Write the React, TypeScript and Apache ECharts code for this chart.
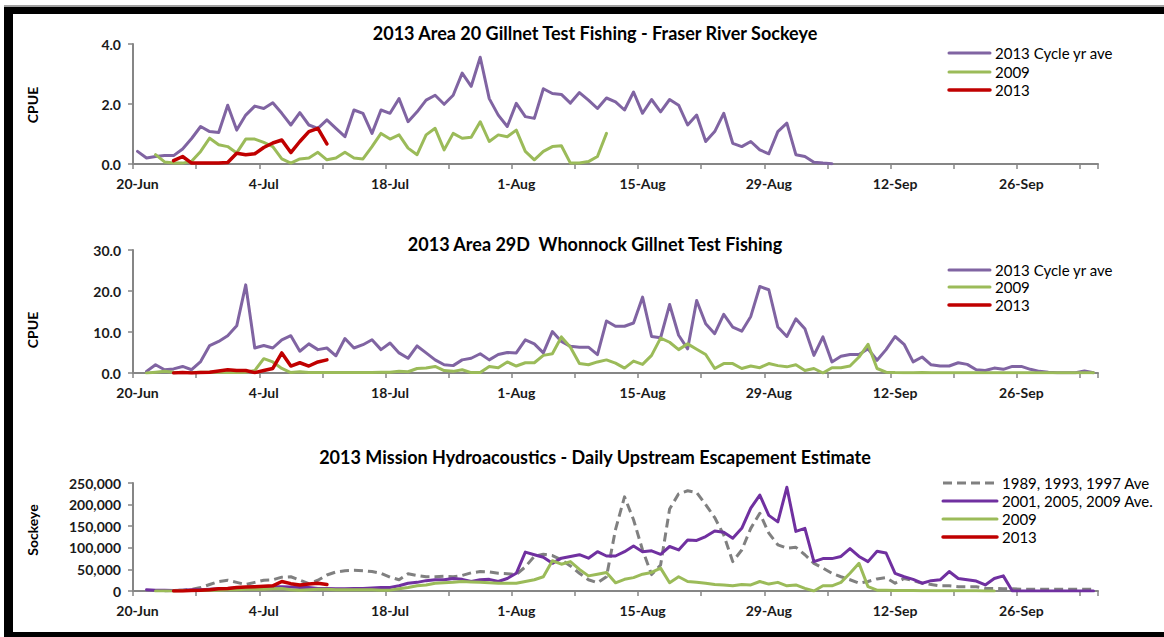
import React, { useEffect, useRef } from "react";
import * as echarts from "echarts";

// ---------- categories (daily, 20-Jun .. 4-Oct 2013) ----------
const MONTHS = ["Jan", "Feb", "Mar", "Apr", "May", "Jun", "Jul", "Aug", "Sep", "Oct", "Nov", "Dec"];
const FIRST_DAY = { year: 2013, month: 5, day: 20 };
const NUM_DAYS = 107;
const dateLabels: string[] = Array.from({ length: NUM_DAYS }, (_, i) => {
  const d = new Date(FIRST_DAY.year, FIRST_DAY.month, FIRST_DAY.day + i);
  return `${d.getDate()}-${MONTHS[d.getMonth()]}`;
});

// ---------- titles / legends ----------
const TITLES = [
  "2013 Area 20 Gillnet Test Fishing - Fraser River Sockeye",
  "2013 Area 29D  Whonnock Gillnet Test Fishing",
  "2013 Mission Hydroacoustics - Daily Upstream Escapement Estimate",
];
const Y_NAMES = ["CPUE", "CPUE", "Sockeye"];

// ---------- Panel 1: Area 20 CPUE ----------
const P1_CYCLE_START = 0;
const P1_CYCLE = [
  0.42, 0.2, 0.25, 0.28, 0.28, 0.5, 0.85, 1.25, 1.08, 1.05,
  1.96, 1.13, 1.63, 1.93, 1.85, 2.04, 1.69, 1.3, 1.71, 1.3,
  1.19, 1.47, 1.19, 0.91, 1.8, 1.69, 1.02, 1.8, 1.69, 2.18,
  1.41, 1.74, 2.13, 2.29, 1.99, 2.29, 3.03, 2.59, 3.56, 2.18,
  1.63, 1.25, 2.02, 1.58, 1.52, 2.51, 2.35, 2.32, 2.03, 2.38,
  2.13, 1.85, 2.2, 2.07, 1.8, 2.4, 1.69, 2.15, 1.74, 2.15,
  1.96, 1.3, 1.63, 0.75, 1.08, 1.69, 0.69, 0.58, 0.75, 0.47,
  0.34, 1.08, 1.36, 0.31, 0.25, 0.06, 0.03, 0.01,
];
const P1_2009_START = 2;
const P1_2009 = [
  0.31, 0.07, 0.03, 0.03, 0.09, 0.42, 0.86, 0.64, 0.58, 0.37,
  0.83, 0.83, 0.72, 0.58, 0.17, 0.03, 0.17, 0.2, 0.39, 0.14,
  0.2, 0.39, 0.2, 0.17, 0.58, 1.02, 0.83, 0.97, 0.53, 0.31,
  0.97, 1.19, 0.47, 1.02, 0.86, 0.89, 1.41, 0.75, 0.97, 0.91,
  1.13, 0.42, 0.14, 0.42, 0.58, 0.61, 0.03, 0.03, 0.08, 0.25,
  1.02,
];
const P1_2013_START = 4;
const P1_2013 = [
  0.11, 0.25, 0.03, 0.03, 0.03, 0.03, 0.05, 0.36, 0.31, 0.34,
  0.55, 0.7, 0.8, 0.38, 0.75, 1.08, 1.19, 0.67,
];

// ---------- Panel 2: Area 29D CPUE ----------
const P2_CYCLE_START = 1;
const P2_CYCLE = [
  0.4, 2.0, 0.8, 1.0, 1.6, 0.8, 2.8, 6.7, 7.7, 9.1,
  11.5, 21.5, 6.1, 6.7, 6.1, 8.1, 9.1, 5.3, 7.1, 5.7,
  6.1, 4.2, 8.4, 6.1, 6.9, 8.1, 5.7, 7.3, 4.9, 3.6,
  6.6, 4.9, 3.2, 2.0, 1.8, 3.2, 3.6, 4.7, 3.2, 4.5,
  5.0, 4.9, 8.1, 7.1, 4.9, 10.1, 7.7, 6.5, 6.3, 6.3,
  4.5, 12.7, 11.4, 11.4, 12.2, 18.5, 8.9, 8.6, 16.7, 9.2,
  5.9, 17.7, 12.0, 9.6, 14.3, 11.2, 10.2, 13.8, 21.1, 20.3,
  11.2, 8.9, 13.2, 10.8, 4.3, 8.8, 2.7, 4.1, 4.5, 4.5,
  5.9, 3.1, 5.7, 8.9, 7.0, 2.7, 3.9, 2.0, 1.7, 1.7,
  2.5, 2.1, 0.8, 0.6, 1.2, 0.9, 1.6, 1.6, 0.9, 0.4,
  0.2, 0.05, 0.05, 0.05, 0.5, 0.05,
];
const P2_2009_START = 1;
const P2_2009 = [
  0.0, 0.2, 0.4, 0.2, 0.1, 0.1, 0.2, 0.2, 0.2, 0.1,
  0.1, 0.2, 0.6, 3.5, 2.7, 1.1, 0.1, 0.3, 0.1, 0.1,
  0.1, 0.1, 0.1, 0.1, 0.1, 0.1, 0.2, 0.2, 0.4, 0.3,
  1.1, 1.2, 1.6, 0.6, 0.4, 0.8, 0.1, 0.1, 1.6, 1.3,
  2.7, 1.7, 2.5, 2.5, 4.3, 4.7, 8.8, 6.3, 2.3, 2.0,
  2.7, 3.2, 2.4, 1.2, 2.9, 2.1, 4.3, 8.5, 7.5, 5.7,
  7.1, 5.8, 4.5, 1.1, 2.3, 2.3, 1.1, 1.7, 1.3, 2.3,
  1.8, 1.5, 2.0, 0.6, 1.1, 0.0, 1.3, 1.3, 1.7, 3.9,
  7.0, 1.1, 0.2, 0.1, 0.05, 0.05, 0.1, 0.05, 0.05, 0.05,
  0.05, 0.05, 0.05, 0.05, 0.05, 0.05, 0.05, 0.05, 0.05, 0.05,
  0.05, 0.05, 0.05, 0.05, 0.05, 0.05,
];
const P2_2013_START = 4;
const P2_2013 = [
  0.0, 0.1, 0.0, 0.1, 0.2, 0.5, 0.8, 0.6, 0.6, 0.1,
  0.6, 1.1, 4.9, 1.7, 2.5, 1.7, 2.7, 3.2,
];

// ---------- Panel 3: Mission hydroacoustics (sockeye/day) ----------
const P3_8997_START = 3;
const P3_8997 = [
  0, 1000, 2000, 4000, 8000, 15000, 22000, 25000, 20000, 15000,
  20000, 25000, 26000, 32000, 33000, 25000, 17000, 25000, 37000, 44000,
  47000, 48000, 47000, 45000, 41000, 32000, 26000, 40000, 36000, 33000,
  33000, 34000, 33000, 36000, 42000, 45000, 44000, 41000, 40000, 38000,
  56000, 80000, 85000, 82000, 72000, 58000, 41000, 26000, 19000, 33000,
  142000, 218000, 165000, 95000, 38000, 60000, 190000, 225000, 232000, 228000,
  200000, 170000, 130000, 68000, 95000, 145000, 180000, 134000, 107000, 99000,
  101000, 84000, 64000, 53000, 41000, 33000, 26000, 18000, 22000, 28000,
  31000, 18000, 29000, 24000, 18000, 15000, 12000, 12000, 10000, 10000,
  10000, 6000, 6000, 5000, 5000, 4000, 4000, 4000, 4000, 4000,
  4000, 4000, 4000, 4000,
];
const P3_0109_START = 1;
const P3_0109 = [
  3000, 2000, 2000, 1000, 2000, 3000, 3000, 4000, 5000, 6000,
  7000, 8000, 9000, 10000, 10000, 10000, 9000, 8000, 8000, 6000,
  6000, 5000, 5000, 6000, 6000, 7000, 8000, 8000, 12000, 18000,
  20000, 24000, 26000, 26000, 29000, 27000, 22000, 26000, 27000, 22000,
  29000, 41000, 90000, 84000, 78000, 64000, 76000, 80000, 84000, 76000,
  91000, 81000, 81000, 91000, 104000, 91000, 93000, 85000, 103000, 95000,
  118000, 117000, 126000, 139000, 136000, 122000, 145000, 192000, 222000, 175000,
  160000, 240000, 138000, 145000, 68000, 75000, 75000, 80000, 98000, 80000,
  68000, 92000, 88000, 41000, 33000, 27000, 18000, 24000, 26000, 45000,
  29000, 26000, 23000, 14000, 29000, 35000, 0, 0, 0, 0,
  0, 0, 0, 0, 0, 0,
];
const P3_2009_START = 2;
const P3_2009 = [
  0, 0, 0, 1000, 1000, 1000, 2000, 2000, 3000, 3000,
  4000, 4000, 4000, 5000, 6000, 3000, 2000, 3000, 4000, 4000,
  3000, 3000, 3000, 3000, 3000, 2000, 2000, 5000, 8000, 12000,
  14000, 18000, 19000, 20000, 22000, 21000, 20000, 19000, 18000, 18000,
  18000, 22000, 26000, 33000, 70000, 62000, 68000, 50000, 35000, 39000,
  43000, 19000, 27000, 31000, 39000, 43000, 53000, 19000, 33000, 22000,
  20000, 18000, 15000, 14000, 12000, 15000, 14000, 22000, 16000, 20000,
  12000, 14000, 6000, 0, 12000, 12000, 20000, 41000, 64000, 10000,
  2000, 1500, 1000, 1000, 1000, 800, 800, 500, 500, 500,
  300, 300, 200, 200,
];
const P3_2013_START = 4;
const P3_2013 = [
  0, 0, 1000, 1500, 3000, 5000, 6000, 8000, 9000, 10000,
  11000, 12000, 22000, 17000, 14000, 16000, 18000, 15000,
];

// ---------- style ----------
const PURPLE = "#8064A2";
const PURPLE_DARK = "#7030A0";
const GREEN = "#9BBB59";
const RED = "#C00000";
const GREY = "#808080";
const AXIS_GREY = "#868686";
const TEXT = "#1a1a1a";
const FONT = "Lato, 'Noto Sans', sans-serif";

const pad = (start: number, vals: number[]) => {
  const out: (number | null)[] = new Array(NUM_DAYS).fill(null);
  vals.forEach((v, i) => {
    if (start + i < NUM_DAYS) out[start + i] = v;
  });
  return out;
};

type S = { name: string; start: number; data: number[]; color: string; width: number; dash?: number[] };

const PANELS: { series: S[]; max: number; interval: number; fmt: (v: number) => string; top: number; height: number; titleY: number; nameY: number; legend: { x1: number; x2: number; tx: number; ys: number[] } }[] = [
  {
    series: [
      { name: "2013 Cycle yr ave", start: P1_CYCLE_START, data: P1_CYCLE, color: PURPLE, width: 3 },
      { name: "2009", start: P1_2009_START, data: P1_2009, color: GREEN, width: 3 },
      { name: "2013", start: P1_2013_START, data: P1_2013, color: RED, width: 3.5 },
    ],
    max: 4, interval: 2, fmt: (v) => v.toFixed(1), top: 44, height: 120, titleY: 33, nameY: 105,
    legend: { x1: 949, x2: 990, tx: 995, ys: [53, 72, 90] },
  },
  {
    series: [
      { name: "2013 Cycle yr ave", start: P2_CYCLE_START, data: P2_CYCLE, color: PURPLE, width: 3 },
      { name: "2009", start: P2_2009_START, data: P2_2009, color: GREEN, width: 3 },
      { name: "2013", start: P2_2013_START, data: P2_2013, color: RED, width: 3.5 },
    ],
    max: 30, interval: 10, fmt: (v) => v.toFixed(1), top: 250, height: 123, titleY: 244, nameY: 330,
    legend: { x1: 949, x2: 990, tx: 995, ys: [270, 287, 305] },
  },
  {
    series: [
      { name: "1989, 1993, 1997 Ave", start: P3_8997_START, data: P3_8997, color: GREY, width: 3, dash: [9, 5] },
      { name: "2001, 2005, 2009 Ave.", start: P3_0109_START, data: P3_0109, color: PURPLE_DARK, width: 3 },
      { name: "2009", start: P3_2009_START, data: P3_2009, color: GREEN, width: 3 },
      { name: "2013", start: P3_2013_START, data: P3_2013, color: RED, width: 3.5 },
    ],
    max: 250000, interval: 50000, fmt: (v) => v.toLocaleString("en-US"), top: 483, height: 108, titleY: 457, nameY: 530,
    legend: { x1: 943, x2: 997, tx: 1002, ys: [483, 501, 519, 537] },
  },
];

const GRID_LEFT = 133;
const GRID_WIDTH = 965;

export default function App() {
  const ref = useRef<HTMLDivElement>(null);
  useEffect(() => {
    if (!ref.current) return;
    const chart = echarts.init(ref.current, undefined, { renderer: "svg" });

    const grid = PANELS.map((p) => ({ left: GRID_LEFT, width: GRID_WIDTH, top: p.top, height: p.height, containLabel: false }));
    const xAxis = PANELS.map((_, i) => ({
      type: "category" as const,
      gridIndex: i,
      data: dateLabels,
      boundaryGap: true,
      axisLine: { show: true, lineStyle: { color: AXIS_GREY, width: 2 } },
      axisTick: { show: true, interval: 6, length: 5, lineStyle: { color: AXIS_GREY, width: 1.5 } },
      axisLabel: { interval: 13, margin: 12, color: TEXT, fontFamily: FONT, fontSize: 14, fontWeight: "bold" as const },
      splitLine: { show: false },
    }));
    const yAxis = PANELS.map((p, i) => ({
      type: "value" as const,
      gridIndex: i,
      min: 0,
      max: p.max,
      interval: p.interval,
      axisLine: { show: true, lineStyle: { color: AXIS_GREY, width: 2 } },
      axisTick: { show: true, length: 5, lineStyle: { color: AXIS_GREY, width: 1.5 } },
      axisLabel: { margin: 12, color: TEXT, fontFamily: FONT, fontSize: 14, fontWeight: "bold" as const, formatter: p.fmt },
      splitLine: { show: false },
    }));
    const series: any[] = [];
    PANELS.forEach((p, i) => {
      p.series.forEach((s) => {
        series.push({
          type: "line",
          name: s.name,
          xAxisIndex: i,
          yAxisIndex: i,
          data: pad(s.start, s.data),
          symbol: "none",
          connectNulls: false,
          lineStyle: { color: s.color, width: s.width, type: s.dash ? s.dash : "solid", join: "round", cap: s.dash ? "butt" : "round" },
          itemStyle: { color: s.color },
        });
      });
    });

    const graphic: any[] = [];
    // frame
    graphic.push({ type: "rect", shape: { x: 4, y: 5, width: 1160, height: 2 }, style: { fill: "#a0a0a0" } });
    graphic.push({ type: "rect", shape: { x: 4, y: 7, width: 1160, height: 7 }, style: { fill: "#000" } });
    graphic.push({ type: "rect", shape: { x: 4, y: 7, width: 9, height: 630 }, style: { fill: "#000" } });
    graphic.push({ type: "rect", shape: { x: 4, y: 632, width: 1160, height: 5 }, style: { fill: "#000" } });

    PANELS.forEach((p, i) => {
      graphic.push({
        type: "text",
        x: 595,
        y: p.titleY,
        style: { text: TITLES[i], fill: "#000", font: `bold 18px ${FONT}`, align: "center", verticalAlign: "middle", textAlign: "center", textVerticalAlign: "middle" },
      });
      graphic.push({
        type: "text",
        x: 32,
        y: p.nameY,
        rotation: Math.PI / 2,
        style: { text: Y_NAMES[i], fill: "#000", font: `bold 14px ${FONT}`, align: "center", verticalAlign: "middle", textAlign: "center", textVerticalAlign: "middle" },
      });
      p.series.forEach((s, k) => {
        const y = p.legend.ys[k];
        graphic.push({
          type: "line",
          shape: { x1: p.legend.x1, y1: y, x2: p.legend.x2, y2: y },
          style: { stroke: s.color, lineWidth: s.width, lineDash: s.dash ? s.dash : null, lineCap: s.dash ? "butt" : "round" },
        });
        graphic.push({
          type: "text",
          x: p.legend.tx,
          y: y,
          style: { text: s.name, fill: "#000", font: `15px ${FONT}`, align: "left", verticalAlign: "middle", textAlign: "left", textVerticalAlign: "middle" },
        });
      });
    });

    chart.setOption({
      animation: false,
      backgroundColor: "#ffffff",
      grid,
      xAxis,
      yAxis,
      series,
      graphic,
    });
    return () => chart.dispose();
  }, []);

  return <div ref={ref} style={{ position: "fixed", left: 0, top: 0, width: 1164, height: 637, background: "#fff" }} />;
}
